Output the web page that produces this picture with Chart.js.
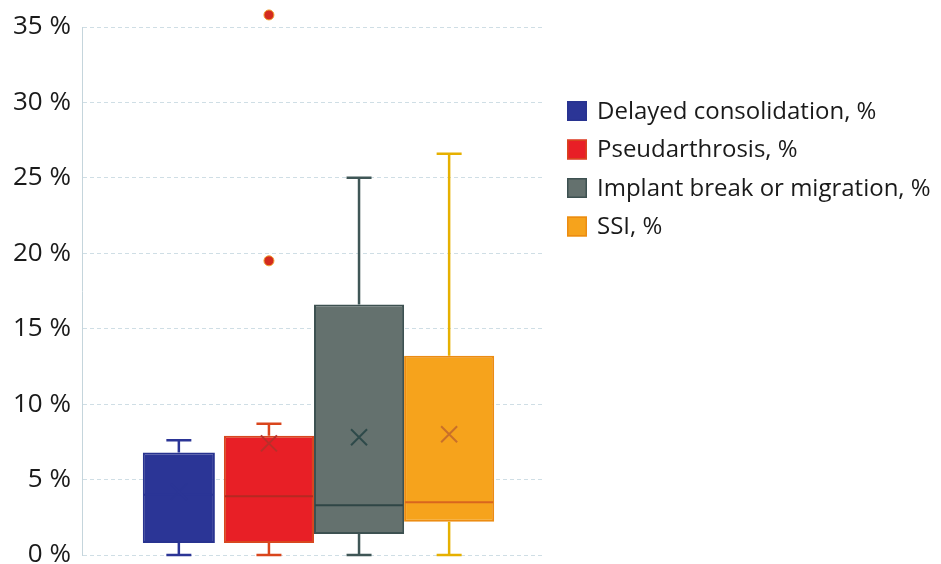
<!DOCTYPE html>
<html>
<head>
<meta charset="utf-8">
<script src="https://cdn.jsdelivr.net/npm/chart.js@4"></script>
<style>
  html, body { margin: 0; padding: 0; background: #ffffff; }
  #wrap { width: 941px; height: 564px; }
</style>
</head>
<body>
<div id="wrap"><canvas id="chart" width="941" height="564"></canvas></div>
<script>
// Complication rates, one box per complication type
const seriesNames = ['Delayed consolidation, %', 'Pseudarthrosis, %', 'Implant break or migration, %', 'SSI, %'];
const whiskerLow  = [0, 0, 0, 0];
const q1          = [0.8, 0.8, 1.4, 2.2];
const median      = [4.0, 3.9, 3.3, 3.5];
const q3          = [6.8, 7.9, 16.6, 13.2];
const whiskerHigh = [7.6, 8.7, 25.0, 26.6];
const means       = [4.2, 7.4, 7.8, 8.0];
const outliers    = [[], [19.5, 35.8], [], []];
const yTicks      = [0, 5, 10, 15, 20, 25, 30, 35];

// Styling per series
const fills    = ['#2b3596', '#e81f26', '#64716e', '#f6a31c'];
const borders  = ['#283390', '#d8461f', '#3d5151', '#ec8c12'];
const whiskers = ['#2b3596', '#d9451c', '#3f5656', '#e6b000'];
const medians  = ['#2b3596', '#b42a22', '#2f4646', '#d9661e'];
const meanCol  = ['#2b3596', '#b8302a', '#2e4a4a', '#c9702a'];
const barPct   = [0.8, 1.0, 1.0, 1.0];

const FONT = '"Open Sans", "DejaVu Sans", sans-serif';

const datasets = seriesNames.map((name, i) => ({
  label: name,
  data: [[q1[i], q3[i]]],
  backgroundColor: fills[i],
  borderColor: borders[i],
  borderWidth: 2,
  borderSkipped: false,
  barPercentage: barPct[i],
  categoryPercentage: 0.78
}));

// Whiskers, caps, medians, means and outliers drawn on top of the boxes
const boxExtras = {
  id: 'boxExtras',
  afterDatasetsDraw(chart) {
    const ctx = chart.ctx;
    const y = chart.scales.y;
    chart.data.datasets.forEach((ds, i) => {
      const bar = chart.getDatasetMeta(i).data[0];
      if (!bar) return;
      const cx = bar.x;
      const half = bar.width / 2;
      const cap = 12.5;
      const yLow = y.getPixelForValue(whiskerLow[i]);
      const yQ1 = y.getPixelForValue(q1[i]);
      const yQ3 = y.getPixelForValue(q3[i]);
      const yHigh = y.getPixelForValue(whiskerHigh[i]);
      ctx.save();
      ctx.lineCap = 'butt';
      // whiskers
      ctx.strokeStyle = whiskers[i];
      ctx.lineWidth = 2.5;
      ctx.beginPath();
      ctx.moveTo(cx, yQ3); ctx.lineTo(cx, yHigh);
      ctx.moveTo(cx - cap, yHigh); ctx.lineTo(cx + cap, yHigh);
      ctx.moveTo(cx, yQ1); ctx.lineTo(cx, yLow);
      ctx.moveTo(cx - cap, yLow); ctx.lineTo(cx + cap, yLow);
      ctx.stroke();
      // median
      const yMed = y.getPixelForValue(median[i]);
      ctx.strokeStyle = medians[i];
      ctx.lineWidth = 2;
      ctx.beginPath();
      ctx.moveTo(cx - half + 1, yMed); ctx.lineTo(cx + half - 1, yMed);
      ctx.stroke();
      // mean marker
      const yMean = y.getPixelForValue(means[i]);
      const m = 8;
      ctx.strokeStyle = meanCol[i];
      ctx.lineWidth = 2;
      ctx.beginPath();
      ctx.moveTo(cx - m, yMean - m); ctx.lineTo(cx + m, yMean + m);
      ctx.moveTo(cx + m, yMean - m); ctx.lineTo(cx - m, yMean + m);
      ctx.stroke();
      // outliers
      outliers[i].forEach(v => {
        const py = y.getPixelForValue(v);
        ctx.beginPath();
        ctx.arc(cx, py, 5, 0, Math.PI * 2);
        ctx.fillStyle = '#d32a1e';
        ctx.fill();
        ctx.strokeStyle = '#f0a030';
        ctx.lineWidth = 1;
        ctx.stroke();
      });
      ctx.restore();
    });
  }
};

// Legend to the right of the plot area, one row per series
const sideLegend = {
  id: 'sideLegend',
  afterDraw(chart) {
    const ctx = chart.ctx;
    const area = chart.chartArea;
    const x0 = area.right + 22;
    const rowTop = 74;
    const rowStep = 38.5;
    ctx.save();
    ctx.font = '24px ' + FONT;
    ctx.textBaseline = 'middle';
    ctx.textAlign = 'left';
    chart.data.datasets.forEach((ds, i) => {
      const cy = area.top + rowTop + i * rowStep + 10;
      ctx.fillStyle = ds.backgroundColor;
      ctx.fillRect(x0, cy - 10, 20, 20);
      ctx.strokeStyle = ds.borderColor;
      ctx.lineWidth = 1.5;
      ctx.strokeRect(x0 + 0.75, cy - 9.25, 18.5, 18.5);
      ctx.fillStyle = '#1a1a1a';
      ctx.fillText(ds.label, x0 + 30, cy + 1);
    });
    ctx.restore();
  }
};

new Chart(document.getElementById('chart'), {
  type: 'bar',
  data: { labels: [''], datasets },
  plugins: [boxExtras, sideLegend],
  options: {
    responsive: false,
    animation: false,
    layout: { padding: { top: 27, bottom: 9, left: 1, right: 396 } },
    plugins: {
      tooltip: { enabled: false },
      legend: { display: false }
    },
    scales: {
      x: { display: false },
      y: {
        min: 0,
        max: 35,
        afterBuildTicks(scale) { scale.ticks = yTicks.map(v => ({ value: v })); },
        afterFit(scale) { scale.paddingTop = 0; scale.paddingBottom = 0; },
        ticks: {
          padding: 12,
          color: '#1a1a1a',
          font: { family: FONT, size: 26 },
          callback: v => v + ' %'
        },
        grid: { color: '#cfdee5', lineWidth: 1, drawTicks: false },
        border: { display: true, color: '#c5d5dc', width: 1, dash: [4, 3] }
      }
    }
  }
});
</script>
</body>
</html>
